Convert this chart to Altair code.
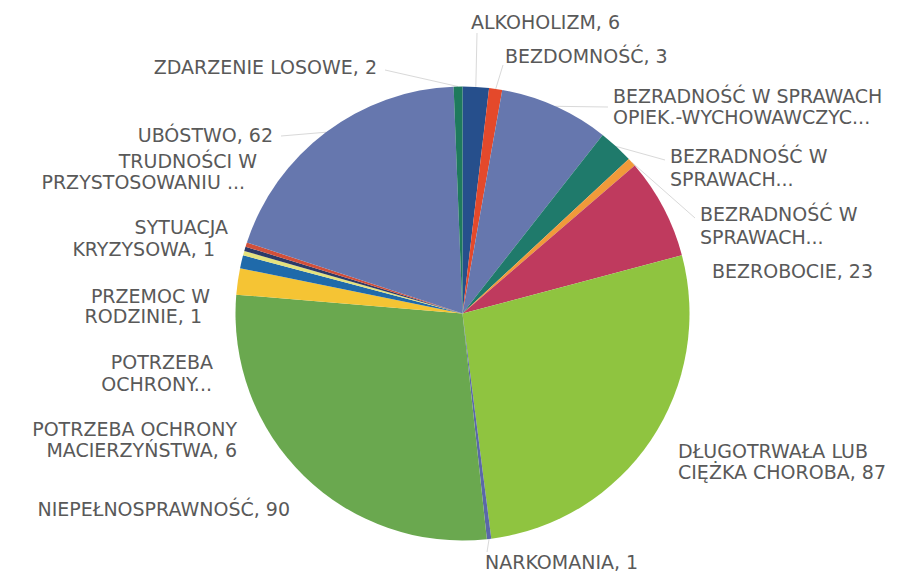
import altair as alt
import numpy as np
import pandas as pd

# ---------------- data ----------------
categories = [
    "ALKOHOLIZM",
    "BEZDOMNOŚĆ",
    "BEZRADNOŚĆ W SPRAWACH OPIEK.-WYCHOWAWCZYCH",
    "BEZRADNOŚĆ W SPRAWACH (2)",
    "BEZRADNOŚĆ W SPRAWACH (3)",
    "BEZROBOCIE",
    "DŁUGOTRWAŁA LUB CIĘŻKA CHOROBA",
    "NARKOMANIA",
    "NIEPEŁNOSPRAWNOŚĆ",
    "POTRZEBA OCHRONY MACIERZYŃSTWA",
    "POTRZEBA OCHRONY (2)",
    "PRZEMOC W RODZINIE",
    "SYTUACJA KRYZYSOWA",
    "TRUDNOŚCI W PRZYSTOSOWANIU",
    "UBÓSTWO",
    "ZDARZENIE LOSOWE",
]
values = [6, 3, 25, 8, 2, 23, 87, 1, 90, 6, 3, 1, 1, 1, 62, 2]

# label text lines for each slice ({v} = value)
label_lines = [
    ["ALKOHOLIZM, {v}"],
    ["BEZDOMNOŚĆ, {v}"],
    ["BEZRADNOŚĆ W SPRAWACH", "OPIEK.-WYCHOWAWCZYC..."],
    ["BEZRADNOŚĆ W", "SPRAWACH..."],
    ["BEZRADNOŚĆ W", "SPRAWACH..."],
    ["BEZROBOCIE, {v}"],
    ["DŁUGOTRWAŁA LUB", "CIĘŻKA CHOROBA, {v}"],
    ["NARKOMANIA, {v}"],
    ["NIEPEŁNOSPRAWNOŚĆ, {v}"],
    ["POTRZEBA OCHRONY", "MACIERZYŃSTWA, {v}"],
    ["POTRZEBA", "OCHRONY..."],
    ["PRZEMOC W", "RODZINIE, {v}"],
    ["SYTUACJA", "KRYZYSOWA, {v}"],
    ["TRUDNOŚCI W", "PRZYSTOSOWANIU ..."],
    ["UBÓSTWO, {v}"],
    ["ZDARZENIE LOSOWE, {v}"],
]

# ---------------- styles / layout ----------------
colors = [
    "#264f8c", "#e4492b", "#6677ae", "#1f7a6b", "#f09a3a", "#bf3a5e",
    "#8fc440", "#5a68a8", "#6aa84f", "#f5c434", "#1f6aaa", "#e4e27e",
    "#2b3a68", "#d2503a", "#6677ae", "#1e7a5c",
]

W, H = 898, 564
CX, CY, R = 454.5, 305.5, 227
FONT = "DejaVu Sans"
FS = 19
TXT = "#595959"

# label anchors per slice: side ('L' = text to the right of anchor, 'R' = text ends at anchor)
label_layout = [
    ("L", [(463, 15)]),
    ("L", [(497, 49)]),
    ("L", [(605, 89), (605, 110)]),
    ("L", [(662, 149), (662, 172)]),
    ("L", [(692, 207), (692, 230)]),
    ("L", [(704, 264)]),
    ("L", [(670, 444), (670, 465)]),
    ("L", [(477, 555)]),
    ("R", [(282, 502)]),
    ("R", [(229, 422), (229, 443)]),
    ("R", [(205, 355), (204, 377)]),
    ("R", [(202, 289), (194, 309)]),
    ("R", [(220, 220), (207, 242)]),
    ("R", [(249, 154), (237, 175)]),
    ("R", [(265, 128)]),
    ("R", [(369, 60)]),
]

# leader line end points (None = no leader line)
leader_end = [
    (469, 25), (495, 57), (600, 99), (657, 152), (687, 210), None,
    None, (479, 544), None, None, None, None, None, None, (273, 128), (377, 62),
]

# ---------------- build tables ----------------
pie_df = pd.DataFrame({"cat": categories, "value": values, "order": list(range(len(values)))})

vals = np.array(values, dtype=float)
cum = np.cumsum(vals)
mid = (cum - vals / 2) / vals.sum() * 2 * np.pi

rows_l, rows_r, lead = [], [], []
for i, (side, pos) in enumerate(label_layout):
    for line, (x, y) in zip(label_lines[i], pos):
        row = {"text": line.format(v=values[i]), "x": x, "y": y}
        (rows_l if side == "L" else rows_r).append(row)
    if leader_end[i] is not None:
        lead.append({
            "x": CX + R * np.sin(mid[i]),
            "y": CY - R * np.cos(mid[i]),
            "x2": leader_end[i][0],
            "y2": leader_end[i][1],
        })

xs = alt.Scale(domain=[0, W], range=[0, W], nice=False, zero=False)
ys = alt.Scale(domain=[0, H], range=[0, H], nice=False, zero=False)

pie = alt.Chart(pie_df).mark_arc(radius=R).encode(
    theta=alt.Theta("value:Q", stack=True),
    color=alt.Color("cat:N", scale=alt.Scale(domain=categories, range=colors), legend=None),
    order=alt.Order("order:Q"),
    x=alt.value(CX),
    y=alt.value(CY),
)

leaders = alt.Chart(pd.DataFrame(lead)).mark_rule(color="#d9d9d9", strokeWidth=1).encode(
    x=alt.X("x:Q", scale=xs, axis=None),
    y=alt.Y("y:Q", scale=ys, axis=None),
    x2="x2:Q",
    y2="y2:Q",
)

text_l = alt.Chart(pd.DataFrame(rows_l)).mark_text(
    align="left", baseline="middle", font=FONT, fontSize=FS, color=TXT
).encode(
    x=alt.X("x:Q", scale=xs, axis=None),
    y=alt.Y("y:Q", scale=ys, axis=None),
    text="text:N",
)

text_r = alt.Chart(pd.DataFrame(rows_r)).mark_text(
    align="right", baseline="middle", font=FONT, fontSize=FS, color=TXT
).encode(
    x=alt.X("x:Q", scale=xs, axis=None),
    y=alt.Y("y:Q", scale=ys, axis=None),
    text="text:N",
)

chart = alt.layer(leaders, pie, text_l, text_r).properties(
    width=W,
    height=H,
    padding=0,
    autosize=alt.AutoSizeParams(type="none"),
    background="white",
).configure_view(stroke=None)

chart.save("out.html", embed_options={"renderer": "svg", "actions": False})
